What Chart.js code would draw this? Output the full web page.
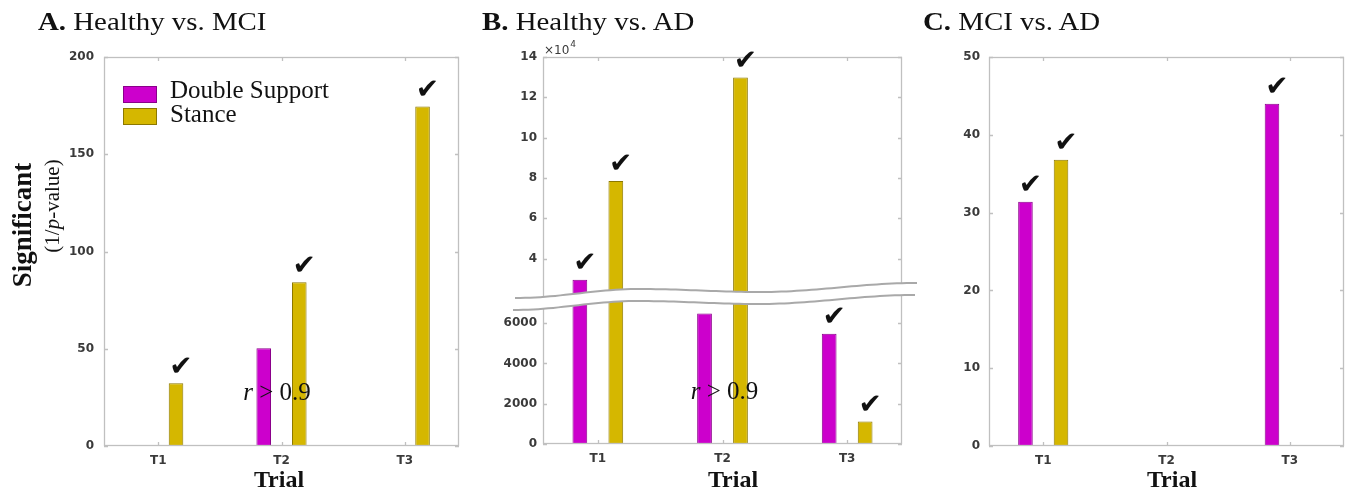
<!DOCTYPE html>
<html>
<head>
<meta charset="utf-8">
<script src="https://cdn.jsdelivr.net/npm/chart.js@4.4.1/dist/chart.umd.min.js"></script>
<style>
  html, body { margin: 0; padding: 0; background: #fff; }
  #wrap { position: relative; width: 1352px; height: 496px; overflow: hidden; background: #fff; }
  canvas { position: absolute; top: 0; }
  .serif { position: absolute; white-space: nowrap; font-family: "Liberation Serif", "Times New Roman", serif; color: #111; line-height: 1; }
  .title { font-size: 26px; top: 9px; transform: scaleX(1.11); transform-origin: left center; }
  .trial { font-size: 24px; font-weight: bold; top: 467px; transform: translateX(-50%); }
  .ylab { transform: translate(-50%, -50%) rotate(-90deg); }
  .key { position: absolute; box-sizing: border-box; }
</style>
</head>
<body>
<div id="wrap">
  <canvas id="chartA" width="470" height="496" style="left:0px"></canvas>
  <canvas id="chartB" width="450" height="496" style="left:470px"></canvas>
  <canvas id="chartC" width="432" height="496" style="left:920px"></canvas>

  <div class="serif title" style="left:38px"><b>A.</b> Healthy vs. MCI</div>
  <div class="serif title" style="left:482px"><b>B.</b> Healthy vs. AD</div>
  <div class="serif title" style="left:923px"><b>C.</b> MCI vs. AD</div>

  <div class="serif ylab" style="left:22px;top:225px;font-size:27px;font-weight:bold">Significant</div>
  <div class="serif ylab" style="left:52px;top:206px;font-size:21px">(1/<i>p</i>-value)</div>

  <div class="serif trial" style="left:279px">Trial</div>
  <div class="serif trial" style="left:733px">Trial</div>
  <div class="serif trial" style="left:1172px">Trial</div>

  <div id="legend"></div>
</div>

<script>
// Trials on the x axis and the two gait measures compared
const trials = ['T1', 'T2', 'T3'];
const seriesNames = ['Double Support', 'Stance'];

// A. Healthy vs. MCI — significance as 1/p-value
const mciDouble = [null, 50.2, null];
const mciStance = [32.2, 84.2, 174.5];
const mciDoubleSig = [false, false, false];
const mciStanceSig = [true, true, true];

// B. Healthy vs. AD — broken axis (lower 0–7200, upper 2–14 ×10^4)
const adDouble = [29600, 6480, 5470];
const adStance = [78500, 129800, 1120];
const adDoubleSig = [true, false, true];
const adStanceSig = [true, true, true];

// C. MCI vs. AD
const mciAdDouble = [31.4, null, 44.0];
const mciAdStance = [36.8, null, null];
const mciAdDoubleSig = [true, false, true];
const mciAdStanceSig = [true, false, false];

// Tick labels
const ticksA = [0, 50, 100, 150, 200];
const ticksBLow = [0, 2000, 4000, 6000];
const ticksBHigh = [4, 6, 8, 10, 12, 14];   // shown in units of 10^4
const ticksC = [0, 10, 20, 30, 40, 50];

// Styling
const PINK = '#cc00cc', PINK_EDGE = '#8a008a';
const GOLD = '#d5b700', GOLD_EDGE = '#8c7800';
const TICK_FONT = { family: '"DejaVu Sans", sans-serif', size: 12, weight: 'bold' };
const TICK_COLOR = '#3a3a3a';
const FRAME_COLOR = '#c0c0c0';
const X_MIN = 0.56, X_MAX = 3.44;
const AD_LOW_MAX = 7200, AD_HIGH_MIN = 20000, AD_HIGH_MAX = 140000;

// Legend (drawn inside panel A)
(function buildLegend() {
  const host = document.getElementById('legend');
  const fills = [PINK, GOLD], edges = [PINK_EDGE, GOLD_EDGE];
  const boxTops = [86, 108], textTops = [77, 101];
  seriesNames.forEach((name, i) => {
    const box = document.createElement('div');
    box.className = 'key';
    box.style.cssText = `left:123px;top:${boxTops[i]}px;width:34px;height:17px;background:${fills[i]};border:1px solid ${edges[i]}`;
    host.appendChild(box);
    const txt = document.createElement('div');
    txt.className = 'serif';
    txt.style.cssText = `left:170px;top:${textTops[i]}px;font-size:25px`;
    txt.textContent = name;
    host.appendChild(txt);
  });
})();

function points(values) {
  return values.map((v, i) => ({ x: i + 1, y: v }));
}

function barSet(label, values, color, edge, yAxisID, stack) {
  const ds = {
    label, data: points(values),
    backgroundColor: color, borderColor: edge, borderWidth: 1,
    yAxisID, categoryPercentage: 0.577, barPercentage: 0.41
  };
  if (stack) ds.stack = stack;
  return ds;
}

function xAxis(height) {
  return {
    type: 'linear', min: X_MIN, max: X_MAX, offset: false,
    afterBuildTicks: s => { s.ticks = trials.map((t, i) => ({ value: i + 1 })); },
    afterFit: s => { s.height = height; },
    grid: { display: false, drawTicks: false, offset: false }, border: { display: false },
    ticks: { callback: v => trials[v - 1], padding: 8, color: TICK_COLOR, font: TICK_FONT, maxRotation: 0, autoSkip: false }
  };
}

function yAxis(width, min, max, tickValues, pad, extra) {
  return Object.assign({
    type: 'linear', position: 'left', min, max, stacked: false,
    afterBuildTicks: s => { s.ticks = tickValues.map(v => ({ value: v })); },
    afterFit: s => { s.width = width; },
    grid: { display: false, drawTicks: false }, border: { display: false },
    ticks: { padding: pad, color: TICK_COLOR, font: TICK_FONT, callback: v => String(v) }
  }, extra || {});
}

// Box around the plot with inward tick marks on all four sides
const framePlugin = {
  id: 'frame',
  afterDatasetsDraw(chart) {
    const { ctx, chartArea: a } = chart;
    ctx.save();
    ctx.strokeStyle = FRAME_COLOR;
    ctx.lineWidth = 1.3;
    ctx.strokeRect(a.left + 0.5, a.top + 0.5, a.right - a.left - 1, a.bottom - a.top - 1);
    const len = 4;
    ctx.beginPath();
    Object.values(chart.scales).forEach(s => {
      s.ticks.forEach(t => {
        const p = Math.round(s.getPixelForValue(t.value)) + 0.5;
        if (s.axis === 'x') {
          ctx.moveTo(p, a.bottom); ctx.lineTo(p, a.bottom - len);
          ctx.moveTo(p, a.top); ctx.lineTo(p, a.top + len);
        } else {
          ctx.moveTo(a.left, p); ctx.lineTo(a.left + len, p);
          ctx.moveTo(a.right, p); ctx.lineTo(a.right - len, p);
        }
      });
    });
    ctx.stroke();
    ctx.restore();
  }
};

// Wavy white band marking the break between the two y ranges of panel B
const breakPlugin = {
  id: 'axisBreak',
  afterDatasetsDraw(chart, args, opts) {
    if (!opts.enabled) return;
    const { ctx, chartArea: a } = chart;
    const yb = chart.scales.yLow.top;
    const x0 = a.left - 28, x1 = a.right + 15;
    // offsets of the upper edge along the band, relative to the break line
    const knots = [[0, -1], [0.31, -10], [0.61, -7], [1, -16]];
    const gap = 12;
    const edge = (f) => {
      for (let k = 0; k < knots.length - 1; k++) {
        const [fa, ya] = knots[k], [fb, yb2] = knots[k + 1];
        if (f >= fa && f <= fb) {
          const t = (f - fa) / (fb - fa);
          const w = (1 - Math.cos(Math.PI * t)) / 2;
          return ya + (yb2 - ya) * w;
        }
      }
      return knots[knots.length - 1][1];
    };
    const n = 80;
    const upper = [], lower = [];
    for (let i = 0; i <= n; i++) {
      const f = i / n;
      const x = x0 + (x1 - x0) * f;
      upper.push([x, yb + edge(f)]);
      lower.push([x - 2, yb + edge(f) + gap]);
    }
    ctx.save();
    ctx.beginPath();
    upper.forEach(([x, y], i) => i ? ctx.lineTo(x, y) : ctx.moveTo(x, y));
    for (let i = lower.length - 1; i >= 0; i--) ctx.lineTo(lower[i][0], lower[i][1]);
    ctx.closePath();
    ctx.fillStyle = '#ffffff';
    ctx.fill();
    ctx.strokeStyle = '#a9a9a9';
    ctx.lineWidth = 2;
    [upper, lower].forEach(line => {
      ctx.beginPath();
      line.forEach(([x, y], i) => i ? ctx.lineTo(x, y) : ctx.moveTo(x, y));
      ctx.stroke();
    });
    ctx.restore();
  }
};

// Check marks above significant bars, plus text notes and the exponent label
function drawRich(ctx, cx, cy, parts) {
  let total = 0;
  parts.forEach(p => { ctx.font = p.font; p.w = ctx.measureText(p.text).width; total += p.w; });
  let x = cx - total / 2;
  ctx.textAlign = 'left';
  ctx.textBaseline = 'middle';
  parts.forEach(p => { ctx.font = p.font; ctx.fillText(p.text, x, cy); x += p.w; });
}

const notesPlugin = {
  id: 'notes',
  afterDraw(chart, args, opts) {
    const { ctx, chartArea: a } = chart;
    ctx.save();
    ctx.fillStyle = '#111';
    // significance checks
    ctx.font = '28px "DejaVu Sans", sans-serif';
    ctx.textAlign = 'center';
    ctx.textBaseline = 'bottom';
    (opts.checks || []).forEach(({ sets, flags }) => {
      flags.forEach((on, i) => {
        if (!on) return;
        for (const di of sets) {
          const v = chart.data.datasets[di].data[i].y;
          if (v == null) continue;
          const bar = chart.getDatasetMeta(di).data[i];
          ctx.fillText('\u2714', bar.x + 5, bar.y - 2);
          break;
        }
      });
    });
    // correlation note
    if (opts.note) {
      const n = opts.note;
      const cx = chart.scales.x.getPixelForValue(n.x) + n.dx;
      const cy = chart.scales[n.axis].getPixelForValue(n.y);
      const f = '"Liberation Serif", "Times New Roman", serif';
      drawRich(ctx, cx, cy, [
        { text: 'r', font: `italic 25px ${f}` },
        { text: ' > 0.9', font: `25px ${f}` }
      ]);
    }
    // exponent for the upper range
    if (opts.exponent) {
      ctx.fillStyle = TICK_COLOR;
      ctx.textAlign = 'left';
      ctx.textBaseline = 'alphabetic';
      ctx.font = '12px "DejaVu Sans", sans-serif';
      ctx.fillText('\u00d710', a.left + 1, a.top - 3);
      const w = ctx.measureText('\u00d710').width;
      ctx.font = '9px "DejaVu Sans", sans-serif';
      ctx.fillText('4', a.left + 2 + w, a.top - 10);
    }
    ctx.restore();
  }
};

Chart.register(framePlugin, breakPlugin, notesPlugin);

function baseOptions(padRight, plugins) {
  return {
    responsive: false, animation: false, devicePixelRatio: 1,
    layout: { padding: { top: 57, right: padRight, left: 0, bottom: 0 } },
    plugins: Object.assign({ legend: { display: false }, tooltip: { enabled: false } }, plugins)
  };
}

// Panel A
new Chart(document.getElementById('chartA'), {
  type: 'bar',
  data: { datasets: [
    barSet(seriesNames[0], mciDouble, PINK, PINK_EDGE, 'y'),
    barSet(seriesNames[1], mciStance, GOLD, GOLD_EDGE, 'y')
  ] },
  options: Object.assign(baseOptions(11, {
    notes: { checks: [{ sets: [0], flags: mciDoubleSig }, { sets: [1], flags: mciStanceSig }],
             note: { x: 2, dx: -4.5, axis: 'y', y: 27.2 } }
  }), {
    scales: { x: xAxis(50), y: yAxis(104, 0, 200, ticksA, 10) }
  })
});

// Panel B (broken y axis: two stacked linear scales)
const lowPart = vals => vals.map(v => v == null ? null : Math.min(v, AD_LOW_MAX));
const highPart = vals => vals.map(v => (v != null && v > AD_HIGH_MIN) ? v : null);
new Chart(document.getElementById('chartB'), {
  type: 'bar',
  data: { datasets: [
    barSet(seriesNames[0], lowPart(adDouble), PINK, PINK_EDGE, 'yLow', 'ds'),
    barSet(seriesNames[1], lowPart(adStance), GOLD, GOLD_EDGE, 'yLow', 'st'),
    barSet(seriesNames[0], highPart(adDouble), PINK, PINK_EDGE, 'yHigh', 'ds'),
    barSet(seriesNames[1], highPart(adStance), GOLD, GOLD_EDGE, 'yHigh', 'st')
  ] },
  options: Object.assign(baseOptions(18, {
    axisBreak: { enabled: true },
    notes: { checks: [{ sets: [2, 0], flags: adDoubleSig }, { sets: [3, 1], flags: adStanceSig }],
             note: { x: 2, dx: 2, axis: 'yLow', y: 2540 }, exponent: true }
  }), {
    scales: {
      x: xAxis(52),
      yLow: yAxis(73, 0, AD_LOW_MAX, ticksBLow, 6, { stack: 'ad', stackWeight: 145 }),
      yHigh: yAxis(73, AD_HIGH_MIN, AD_HIGH_MAX, ticksBHigh.map(v => v * 1e4), 6, {
        stack: 'ad', stackWeight: 242,
        ticks: { padding: 6, color: TICK_COLOR, font: TICK_FONT, callback: v => String(v / 1e4) }
      })
    }
  })
});

// Panel C
new Chart(document.getElementById('chartC'), {
  type: 'bar',
  data: { datasets: [
    barSet(seriesNames[0], mciAdDouble, PINK, PINK_EDGE, 'y'),
    barSet(seriesNames[1], mciAdStance, GOLD, GOLD_EDGE, 'y')
  ] },
  options: Object.assign(baseOptions(8, {
    notes: { checks: [{ sets: [0], flags: mciAdDoubleSig }, { sets: [1], flags: mciAdStanceSig }] }
  }), {
    scales: { x: xAxis(50), y: yAxis(69, 0, 50, ticksC, 9) }
  })
});
</script>
</body>
</html>
